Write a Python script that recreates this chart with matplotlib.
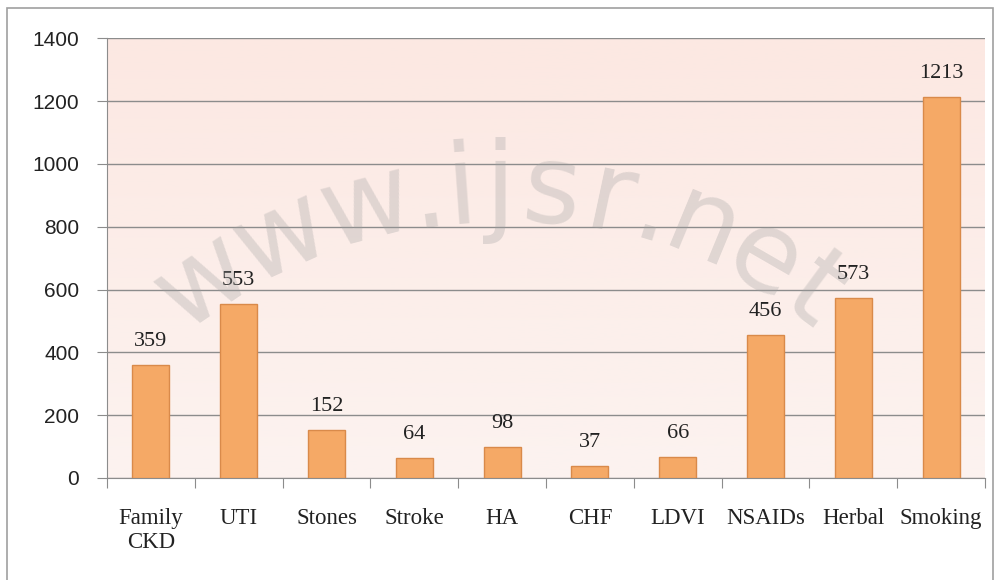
import numpy as np
import matplotlib.pyplot as plt
from matplotlib.patches import Rectangle

categories = ['Family\nCKD', 'UTI', 'Stones', 'Stroke', 'HA', 'CHF', 'LDVI', 'NSAIDs', 'Herbal', 'Smoking']
values = [359, 553, 152, 64, 98, 37, 66, 456, 573, 1213]
yticks = [0, 200, 400, 600, 800, 1000, 1200, 1400]

fig = plt.figure(figsize=(10, 5.8), dpi=100)
ax = fig.add_axes([0.107, 0.176, 0.878, 0.758])

# pinkish gradient background
grad = np.linspace(0, 1, 256).reshape(-1, 1)
top = np.array([252, 232, 226]) / 255
bot = np.array([252, 243, 240]) / 255
img = bot + (top - bot) * grad[..., None]
ax.imshow(img, extent=[-0.5, len(categories) - 0.5, 0, 1400], origin='lower',
          aspect='auto', zorder=0)

x = np.arange(len(categories))
ax.bar(x, values, width=0.42, color='#F5A966', edgecolor='#D98A4A', linewidth=1, zorder=3)
for xi, v in zip(x, values):
    ax.text(xi, v + 45, str(v), ha='center', va='bottom', fontsize=16,
            family='Liberation Serif', color='#222222', zorder=4)

ax.set_xlim(-0.5, len(categories) - 0.5)
ax.set_ylim(0, 1400)
ax.set_yticks(yticks)
ax.set_yticklabels([str(t) for t in yticks], fontsize=15, family='Liberation Sans',
                   color='#222222')
ax.yaxis.grid(True, color='#8c8c8c', linewidth=1, zorder=1)
ax.set_axisbelow(True)

ax.set_xticks(np.arange(-0.5, len(categories), 1))
ax.set_xticklabels([])
ax.set_xticks(x, minor=True)
ax.set_xticklabels(categories, minor=True, fontsize=16.5, family='Liberation Serif',
                   color='#222222', linespacing=1.15)
ax.tick_params(axis='x', which='minor', length=0, pad=22)
ax.tick_params(axis='x', which='major', length=7, color='#8c8c8c')
ax.tick_params(axis='y', length=7, color='#8c8c8c', pad=13)

for s in ['top', 'right']:
    ax.spines[s].set_visible(False)
for s in ['left', 'bottom']:
    ax.spines[s].set_color('#8c8c8c')

# outer chart border
fig.add_artist(Rectangle((0.007, -0.05), 0.986, 1.036, transform=fig.transFigure,
                         fill=False, edgecolor='#a0a0a0', linewidth=1.2))

# faint watermark along an arc
wm = 'www.ijsr.net'
cx, cy, r = 500, 580 - 720, 530
widths = [1.3, 1.3, 1.3, 0.5, 0.5, 0.6, 0.9, 0.8, 0.5, 1.0, 1.0, 0.7]
total = sum(widths)
span = np.deg2rad(78)
pos = np.cumsum(widths) - np.array(widths) / 2
for ch, p in zip(wm, pos):
    a = np.pi / 2 + span / 2 - span * p / total
    px = cx + r * np.cos(a)
    py = cy + r * np.sin(a)
    fig.text(px / 1000, py / 580, ch, fontsize=80, color='#a0a0a0', alpha=0.3,
             ha='center', va='center', rotation=np.rad2deg(a - np.pi / 2), zorder=10)

fig.savefig('out.png', dpi=100)
